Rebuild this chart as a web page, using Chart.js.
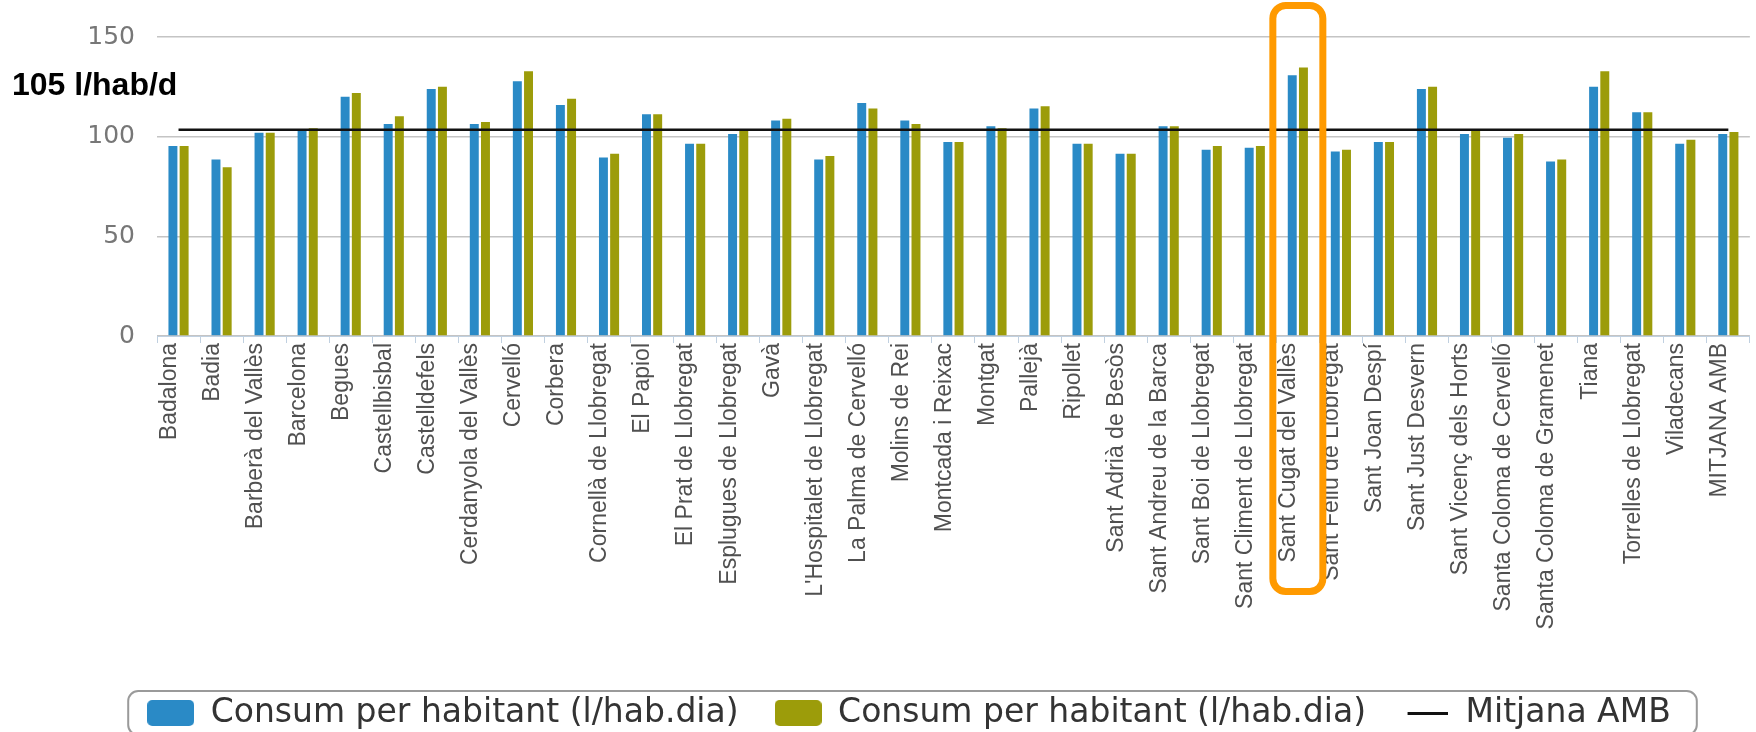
<!DOCTYPE html>
<html>
<head>
<meta charset="utf-8">
<title>Consum per habitant</title>
<script src="https://cdn.jsdelivr.net/npm/chart.js@4.4.1/dist/chart.umd.min.js"></script>
<style>
  html, body { margin: 0; padding: 0; background: #fff; overflow: hidden; }
  #wrap { position: relative; width: 1756px; height: 750px; }
</style>
</head>
<body>
<div id="wrap"><canvas id="chart"></canvas></div>
<script>
// Municipis de l'AMB, in chart order.
const municipis = [
  "Badalona", "Badia", "Barberà del Vallès", "Barcelona", "Begues",
  "Castellbisbal", "Castelldefels", "Cerdanyola del Vallès", "Cervelló", "Corbera",
  "Cornellà de Llobregat", "El Papiol", "El Prat de Llobregat", "Esplugues de Llobregat", "Gavà",
  "L'Hospitalet de Llobregat", "La Palma de Cervelló", "Molins de Rei", "Montcada i Reixac", "Montgat",
  "Pallejà", "Ripollet", "Sant Adrià de Besòs", "Sant Andreu de la Barca", "Sant Boi de Llobregat",
  "Sant Climent de Llobregat", "Sant Cugat del Vallès", "Sant Feliu de Llobregat", "Sant Joan Despí", "Sant Just Desvern",
  "Sant Vicenç dels Horts", "Santa Coloma de Cervelló", "Santa Coloma de Gramenet", "Tiana", "Torrelles de Llobregat",
  "Viladecans", "MITJANA AMB",
];

// l/hab.dia, first series (blue)
const consumBlau = [
  95.3, 88.6, 102.0, 103.9, 120.0, 106.3, 123.9, 106.3, 127.8, 115.9,
  89.5, 111.3, 96.4, 101.3, 108.1, 88.6, 116.9, 108.1, 97.3, 105.2,
  114.1, 96.4, 91.4, 105.2, 93.4, 94.5, 130.8, 92.5, 97.3, 123.9,
  101.3, 99.5, 87.5, 125.0, 112.2, 96.4, 101.3,
];

// l/hab.dia, second series (olive)
const consumVerd = [
  95.3, 84.7, 102.0, 104.2, 121.9, 110.2, 125.0, 107.3, 132.8, 119.0,
  91.4, 111.3, 96.4, 103.4, 109.0, 90.3, 114.1, 106.3, 97.3, 104.2,
  115.2, 96.4, 91.4, 105.2, 95.3, 95.3, 134.7, 93.4, 97.3, 125.0,
  103.4, 101.3, 88.6, 132.8, 112.2, 98.4, 102.3,
];

const mitjanaAMB = 103.5;
const yMin = 0;
const yMax = 150;
const yStep = 50;

const serieLabel = "Consum per habitant (l/hab.dia)";
const mitjanaLabel = "Mitjana AMB";
const destacat = "Sant Cugat del Vallès";
const anotacio = "105 l/hab/d";

const BLUE = "#2a8ac6";
const OLIVE = "#9c9c0a";

// Small canvases used as legend symbols.
function swatch(color, w, h, r) {
  const c = document.createElement("canvas");
  c.width = w;
  c.height = h;
  const g = c.getContext("2d");
  g.fillStyle = color;
  g.beginPath();
  g.roundRect(0, 0, w, h, r);
  g.fill();
  return c;
}

function dash(color, w, h) {
  const c = document.createElement("canvas");
  c.width = w;
  c.height = h;
  const g = c.getContext("2d");
  g.fillStyle = color;
  g.fillRect(4, Math.round(h / 2) - 1, w - 4, 3);
  return c;
}

const symbols = [swatch(BLUE, 47, 26, 5), swatch(OLIVE, 47, 26, 5), dash("#111", 44, 26)];

// Rounded frame around the legend, like the old Highcharts legend box.
const legendFrame = {
  id: "legendFrame",
  afterDraw(chart) {
    const boxes = chart.legend && chart.legend.legendHitBoxes;
    if (!boxes || !boxes.length) return;
    const first = boxes[0];
    const last = boxes[boxes.length - 1];
    const left = first.left - 19;
    const right = last.left + last.width + 26;
    const cy = first.top + first.height / 2;
    const ctx = chart.ctx;
    ctx.save();
    ctx.strokeStyle = "#9a9a9a";
    ctx.lineWidth = 2;
    ctx.beginPath();
    ctx.roundRect(left, cy - 22, right - left, 44, 10);
    ctx.stroke();
    ctx.restore();
  },
};

// Orange highlight around one municipality and the bold note on the left.
const highlight = {
  id: "highlight",
  afterDraw(chart) {
    const ctx = chart.ctx;
    const x = chart.scales.x;
    const i = municipis.indexOf(destacat);
    const cx = x.getPixelForValue(i);
    ctx.save();
    ctx.strokeStyle = "#ff9a00";
    ctx.lineWidth = 7;
    ctx.beginPath();
    ctx.roundRect(cx - 25, 5.5, 50, 586, 13);
    ctx.stroke();

    ctx.fillStyle = "#000";
    ctx.font = 'bold 32px "Liberation Sans", Arial, sans-serif';
    ctx.textBaseline = "alphabetic";
    ctx.textAlign = "left";
    ctx.fillText(anotacio, 12, 95);
    ctx.restore();
  },
};

Chart.defaults.font.family = '"Liberation Sans", Arial, sans-serif';

new Chart(document.getElementById("chart"), {
  type: "bar",
  data: {
    labels: municipis,
    datasets: [
      {
        label: serieLabel,
        data: consumBlau,
        backgroundColor: BLUE,
        categoryPercentage: 0.52,
        barPercentage: 0.8,
      },
      {
        label: serieLabel,
        data: consumVerd,
        backgroundColor: OLIVE,
        categoryPercentage: 0.52,
        barPercentage: 0.8,
      },
      {
        type: "line",
        label: mitjanaLabel,
        data: municipis.map(() => mitjanaAMB),
        borderColor: "#111",
        borderWidth: 2.5,
        pointRadius: 0,
        fill: false,
        order: -1,
      },
    ],
  },
  options: {
    responsive: true,
    maintainAspectRatio: false,
    animation: false,
    layout: { padding: { left: 66, right: 4, top: 16, bottom: 10.5 } },
    plugins: {
      tooltip: { enabled: false },
      legend: {
        position: "bottom",
        labels: {
          usePointStyle: true,
          pointStyleWidth: 47,
          boxHeight: 26,
          padding: 36,
          color: "#333",
          font: { family: '"DejaVu Sans", sans-serif', size: 33 },
          sort: (a, b) => a.datasetIndex - b.datasetIndex,
          generateLabels(chart) {
            const items = Chart.defaults.plugins.legend.labels.generateLabels(chart);
            items.forEach((it) => { it.pointStyle = symbols[it.datasetIndex]; });
            return items;
          },
        },
      },
    },
    scales: {
      x: {
        grid: {
          offset: true,
          drawOnChartArea: false,
          drawTicks: true,
          tickLength: 7,
          color: "#c0d0e0",
        },
        border: { color: "#c0d0e0", width: 1 },
        ticks: {
          autoSkip: false,
          minRotation: 90,
          maxRotation: 90,
          padding: 0,
          labelOffset: -9,
          color: "#505050",
          font: { size: 23 },
        },
        afterFit(scale) { scale.height = 324.5; },
      },
      y: {
        min: yMin,
        max: yMax,
        ticks: {
          stepSize: yStep,
          padding: 22,
          color: "#777",
          font: { family: '"DejaVu Sans", sans-serif', size: 25 },
        },
        grid: { color: "#c4c4c4", lineWidth: 1.5, drawTicks: false },
        border: { display: false },
        afterFit(scale) { scale.width = 91; },
      },
    },
  },
  plugins: [legendFrame, highlight],
});
</script>
</body>
</html>
